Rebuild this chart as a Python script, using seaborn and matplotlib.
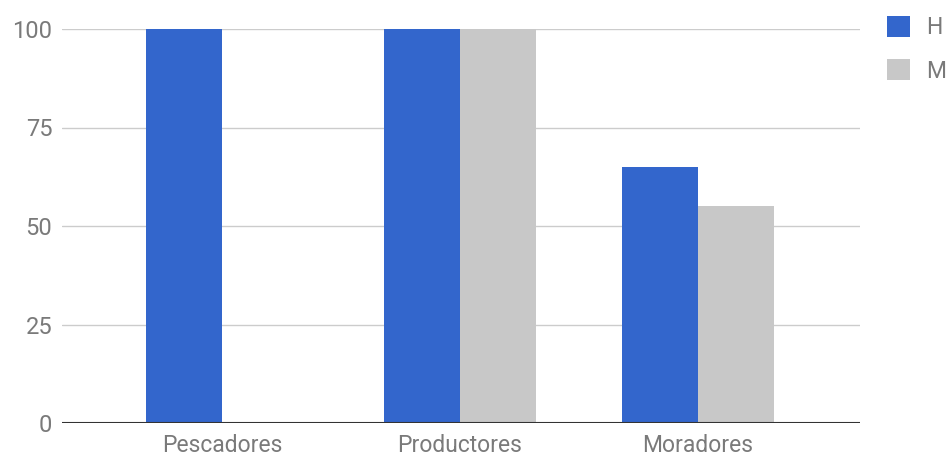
import matplotlib
matplotlib.use("Agg")
import matplotlib.pyplot as plt
import seaborn as sns
import pandas as pd
from matplotlib.patches import Patch

categories = ["Pescadores", "Productores", "Moradores"]
series_names = ["H", "M"]
h_values = [100, 100, 65]
m_values = [0, 100, 55]
y_ticks = [0, 25, 50, 75, 100]

colors = {"H": "#3366CC", "M": "#C8C8C8"}

df = pd.DataFrame({
    "cat": categories * 2,
    "serie": ["H"] * len(categories) + ["M"] * len(categories),
    "val": h_values + m_values,
})

sns.set_theme(style="white")
plt.rcParams["font.family"] = ["Roboto", "DejaVu Sans"]

fig = plt.figure(figsize=(9.49, 4.57), dpi=100)
ax = fig.add_axes([62 / 949, (457 - 423) / 457, (860 - 62) / 949, (423 - 29) / 457])

sns.barplot(data=df, x="cat", y="val", hue="serie", order=categories,
            hue_order=series_names, palette=colors, width=0.64,
            saturation=1, ax=ax, legend=False, linewidth=0)

ax.set_ylim(0, 100)
ax.set_xlim(-0.672, 2.68)
ax.set_yticks(y_ticks)
ax.set_yticklabels([str(t) for t in y_ticks])
ax.set_xlabel("")
ax.set_ylabel("")
for s in ["top", "right", "left", "bottom"]:
    ax.spines[s].set_visible(False)
ax.set_axisbelow(True)
ax.yaxis.grid(True, color="#CCCCCC", linewidth=1)
ax.axhline(0, color="#333333", linewidth=1.5, zorder=5)
ax.tick_params(axis="both", length=0, labelcolor="#7A7A7A")
ax.tick_params(axis="y", pad=7, labelsize=17)
ax.tick_params(axis="x", pad=8, labelsize=16.5)

handles = [Patch(facecolor=colors[s], edgecolor="none") for s in series_names]
fig.legend(handles, series_names, loc="upper left",
           bbox_to_anchor=(887 / 949, 1 - 16 / 457), frameon=False,
           fontsize=16.5, labelcolor="#7A7A7A", handlelength=1.02,
           handleheight=1.02, handletextpad=0.7, labelspacing=0.88,
           borderaxespad=0, borderpad=0)

fig.savefig("out.png", dpi=100)
